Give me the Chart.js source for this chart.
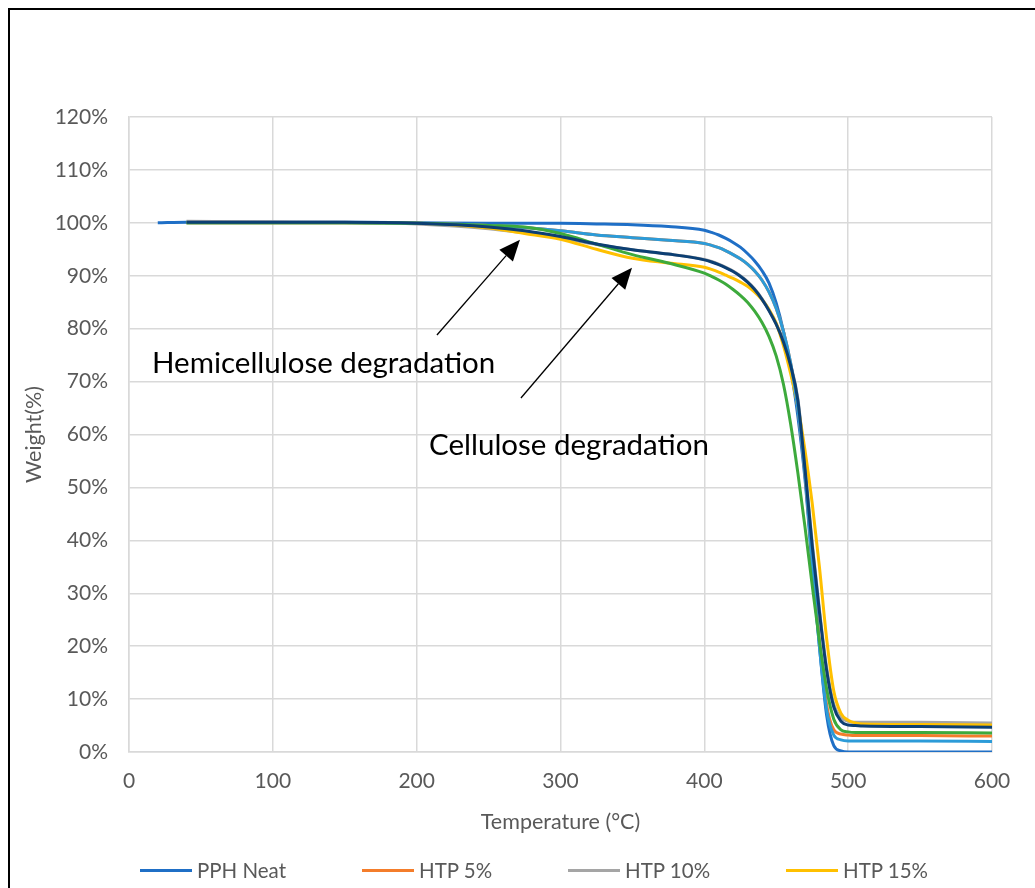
<!DOCTYPE html>
<html>
<head>
<meta charset="utf-8">
<script src="https://cdn.jsdelivr.net/npm/chart.js@4/dist/chart.umd.min.js"></script>
<style>
html,body{margin:0;padding:0;background:#fff;overflow:hidden;}
#wrap{position:relative;width:1035px;height:888px;overflow:hidden;}
#chart{position:absolute;left:0;top:0;}
#frame{position:absolute;left:8px;top:8px;width:1100px;height:1000px;border-left:2.5px solid #000;border-top:2.5px solid #000;box-sizing:border-box;pointer-events:none;}
#legend{position:absolute;left:0;top:856px;width:1068px;height:28px;display:flex;justify-content:center;gap:76px;font-family:Lato,sans-serif;font-size:20.5px;color:#595959;}
.item{display:flex;align-items:center;height:28px;white-space:nowrap;}
.swatch{width:52px;height:3px;margin-right:5px;}
</style>
</head>
<body>
<div id="wrap">
<canvas id="chart" width="1035" height="888"></canvas>
<div id="frame"></div>
<div id="legend"></div>
</div>
<script>
// ---- data ----
const temperatures = [20, 40, 100, 150, 200, 250, 275, 300, 325, 350, 375,
  400, 405, 410, 415, 420, 425, 430, 435, 440, 445, 450, 455, 460, 465, 470, 475, 480, 485, 490, 495, 500, 505, 510,
  550, 600];
const pphNeat = [100, 100.1, 100.1, 100.1, 100, 99.9, 99.9, 99.9, 99.8, 99.65, 99.3,
  98.6, 98.2, 97.7, 97.05, 96.3, 95.4, 94.2, 92.8, 91.0, 88.6, 84.8, 79.5, 72.5, 63.5, 51.5, 35.0, 20.0, 7.0, 1.2, 0.2, 0, 0, 0,
  0, 0];
const htp5 = [null, 100, 100, 100, 99.9, 99.5, 99.1, 98.5, 97.7, 97.2, 96.7,
  96.1, 95.75, 95.3, 94.7, 94.0, 93.2, 92.2, 90.9, 89.2, 86.9, 83.8, 79.5, 73.5, 65.0, 52.5, 36.5, 21.0, 9.0, 4.2, 3.4, 3.2, 3.1, 3.1,
  3.1, 3.0];
const htp10 = [null, 100.3, 100.2, 100.1, 99.8, 98.9, 98.1, 97.1, 95.9, 94.9, 94.1,
  93.1, 92.7, 92.2, 91.6, 90.9, 90.0, 88.9, 87.5, 85.7, 83.5, 80.9, 77.6, 73.2, 66.8, 54.0, 39.5, 27.0, 16.0, 9.0, 6.5, 5.8, 5.6, 5.6,
  5.6, 5.5];
const htp15 = [null, 100, 100, 100, 99.9, 99.0, 98.0, 96.9, 95.0, 93.3, 92.4,
  91.6, 91.2, 90.7, 90.1, 89.5, 88.8, 88.0, 86.9, 85.5, 83.6, 81.0, 76.8, 71.5, 65.3, 57.0, 47.0, 35.0, 21.5, 11.5, 7.3, 6.0, 5.5, 5.3,
  5.2, 5.1];
const htp20 = [null, 100, 100, 100, 99.9, 99.5, 99.1, 98.5, 97.7, 97.2, 96.7,
  96.1, 95.75, 95.3, 94.7, 94.0, 93.2, 92.2, 90.9, 89.2, 86.9, 83.8, 79.5, 73.5, 65.0, 52.5, 36.0, 20.0, 8.0, 3.2, 2.3, 2.1, 2.1, 2.1,
  2.1, 2.0];
const htp25 = [null, 100, 100, 100, 99.9, 99.5, 99.2, 98.0, 96.0, 94.0, 92.4,
  90.5, 89.9, 89.2, 88.4, 87.4, 86.3, 85.0, 83.3, 81.2, 78.5, 74.8, 69.5, 62.0, 52.8, 42.5, 31.5, 21.0, 12.0, 6.2, 4.2, 3.8, 3.7, 3.7,
  3.7, 3.6];
const htp30 = [null, 100.1, 100.1, 100.1, 99.9, 99.2, 98.5, 97.4, 96.0, 94.9, 94.1,
  93.0, 92.6, 92.1, 91.5, 90.8, 89.9, 88.8, 87.4, 85.6, 83.4, 80.8, 77.5, 73.0, 66.5, 53.5, 39.0, 26.5, 15.5, 8.5, 5.8, 5.1, 5.0, 4.9,
  4.8, 4.7];

const seriesNames = ['PPH Neat', 'HTP 5%', 'HTP 10%', 'HTP 15%', 'HTP 20%', 'HTP 25%', 'HTP 30%'];
const seriesValues = [pphNeat, htp5, htp10, htp15, htp20, htp25, htp30];
const seriesColors = ['#1F6FC6', '#F47D2B', '#A5A5A5', '#FFC000', '#2C9BD8', '#3DAA3C', '#0C3F73'];
const legendCount = 4;

const xTickMin = 0, xTickMax = 600, xTickStep = 100;
const yTickMin = 0, yTickMax = 120, yTickStep = 10;

const noteTexts = ['Hemicellulose degradation', 'Cellulose degradation'];
const noteAnchors = [[16, 73.5], [208.6, 58.0]];          // [temperature, weight] of text left/middle
const arrowTails = [[214.1, 78.8], [272.5, 66.9]];
const arrowHeads = [[271.8, 96.8], [349.7, 91.5]];

// ---- chart ----
const FONT = 'Lato, sans-serif';
const TXT = '#595959';
const GRID = '#d9d9d9';

const datasets = seriesValues.map((vals, i) => ({
  label: seriesNames[i],
  data: temperatures.map((t, j) => ({x: t, y: vals[j]})).filter(p => p.y !== null),
  borderColor: seriesColors[i],
  backgroundColor: seriesColors[i],
  borderWidth: 3,
  pointRadius: 0,
  fill: false,
  cubicInterpolationMode: 'monotone',
  order: seriesValues.length - 1 - i
}));

const notesPlugin = {
  id: 'notes',
  afterDatasetsDraw(chart) {
    const {ctx} = chart;
    const xs = chart.scales.x, ys = chart.scales.y;
    ctx.save();
    ctx.strokeStyle = '#000';
    ctx.fillStyle = '#000';
    ctx.lineWidth = 1.3;
    arrowTails.forEach((tail, k) => {
      const head = arrowHeads[k];
      const x1 = xs.getPixelForValue(tail[0]), y1 = ys.getPixelForValue(tail[1]);
      const x2 = xs.getPixelForValue(head[0]), y2 = ys.getPixelForValue(head[1]);
      const ang = Math.atan2(y2 - y1, x2 - x1);
      const L = 21, W = 9;
      const bx = x2 - L * Math.cos(ang), by = y2 - L * Math.sin(ang);
      ctx.beginPath(); ctx.moveTo(x1, y1); ctx.lineTo(bx, by); ctx.stroke();
      ctx.beginPath();
      ctx.moveTo(x2, y2);
      ctx.lineTo(bx + W * Math.sin(ang), by - W * Math.cos(ang));
      ctx.lineTo(bx - W * Math.sin(ang), by + W * Math.cos(ang));
      ctx.closePath(); ctx.fill();
    });
    ctx.font = '29.5px ' + FONT;
    ctx.textAlign = 'left';
    ctx.textBaseline = 'middle';
    noteTexts.forEach((t, k) => {
      ctx.fillText(t, xs.getPixelForValue(noteAnchors[k][0]), ys.getPixelForValue(noteAnchors[k][1]));
    });
    ctx.restore();
  }
};

new Chart(document.getElementById('chart'), {
  type: 'line',
  data: {datasets},
  plugins: [notesPlugin],
  options: {
    responsive: false,
    animation: false,
    devicePixelRatio: 1,
    layout: {padding: {left: 12, top: 117, right: 43, bottom: 46}},
    plugins: {legend: {display: false}, tooltip: {enabled: false}},
    scales: {
      x: {
        type: 'linear', min: xTickMin, max: xTickMax,
        ticks: {stepSize: xTickStep, padding: 17, color: TXT, font: {family: FONT, size: 21}},
        grid: {color: GRID, lineWidth: 1.5, drawTicks: false},
        border: {color: GRID, width: 1.5},
        title: {display: true, text: 'Temperature (°C)', color: TXT, font: {family: FONT, size: 21.5}, padding: {top: 0, bottom: 7}},
        afterFit(s) { s.height = 90; }
      },
      y: {
        type: 'linear', min: yTickMin, max: yTickMax,
        ticks: {stepSize: yTickStep, padding: 21, color: TXT, font: {family: FONT, size: 21}, callback: v => v + '%'},
        grid: {color: GRID, lineWidth: 1.5, drawTicks: false},
        border: {color: GRID, width: 1.5},
        title: {display: true, text: 'Weight(%)', color: TXT, font: {family: FONT, size: 21.5}, padding: {top: 9, bottom: 0}},
        afterFit(s) { s.width = 117; }
      }
    }
  }
});

// ---- legend (first row only, as in the reference) ----
const legend = document.getElementById('legend');
seriesNames.slice(0, legendCount).forEach((name, i) => {
  const item = document.createElement('div');
  item.className = 'item';
  const sw = document.createElement('span');
  sw.className = 'swatch';
  sw.style.background = seriesColors[i];
  const tx = document.createElement('span');
  tx.textContent = name;
  item.appendChild(sw); item.appendChild(tx);
  legend.appendChild(item);
});
</script>
</body>
</html>
